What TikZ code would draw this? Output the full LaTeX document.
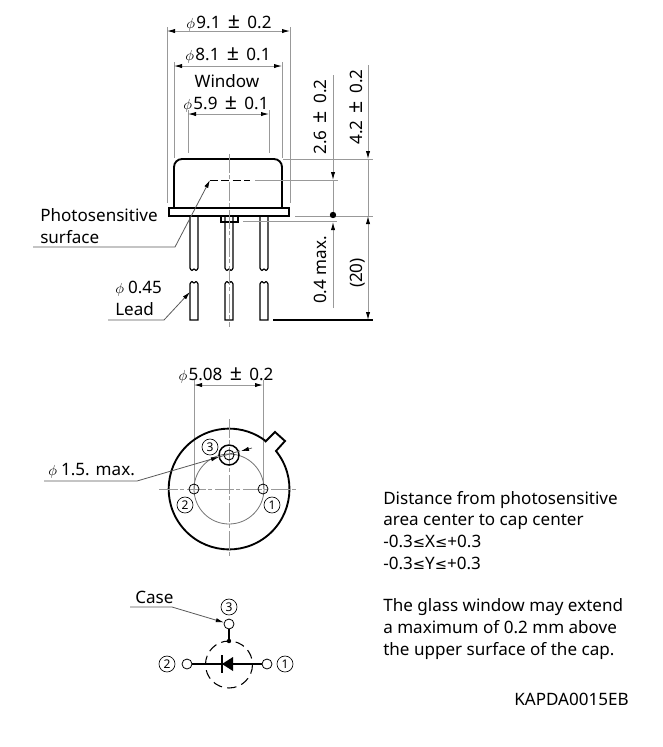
\documentclass[tikz,border=0pt]{standalone}
\usepackage{fontspec}
\setmainfont{Noto Sans}
\newfontfamily\symfont{DejaVu Sans}
\usepackage{amsmath}
\usetikzlibrary{arrows.meta}
\definecolor{dimgray}{gray}{0.6}
\tikzset{
  tipblack/.tip={Latex[black,length=6pt,width=3.2pt]},
  dimline/.style={draw=dimgray,line width=0.7pt},
  dimarrow/.style={dimline,tipblack-tipblack},
  tiparrow/.style={dimline,-tipblack},
  leader/.style={draw=black!65,line width=0.6pt,-tipblack},
  centerline/.style={dimline,dash pattern=on 14pt off 2pt on 3pt off 2pt},
  outline/.style={draw=black,line width=1.4pt},
  pinlabel/.style={draw=black,circle,line width=0.5pt,minimum size=12pt,inner sep=0pt,font=\fontsize{9}{9}\selectfont},
  pinhole/.style={draw=black,circle,line width=0.6pt,minimum size=7.5pt,inner sep=0pt},
  label/.style={font=\fontsize{12.8}{15}\selectfont,inner sep=0pt,text height=11.5pt,text depth=2.5pt}
}
\newcommand{\dia}{{\fontsize{11}{11}\selectfont$\phi$}\hspace{1pt}}
\newcommand{\tol}{\hspace{5.5pt}{\fontsize{16}{16}\selectfont ±}\hspace{5.5pt}}
\newcommand{\lessq}{{\symfont\fontsize{11}{11}\selectfont ≤}}
\begin{document}
\begin{tikzpicture}[x=0.75pt,y=-0.75pt]
   \useasboundingbox (0,0) rectangle (663,747);
   % top view dimensions
   \draw[dimline] (167,27) -- (167,203);
   \draw[dimline] (290,27) -- (290,203);
   \draw[dimline] (174,62) -- (174,158);
   \draw[dimline] (282,62) -- (282,158);
   \draw[dimline] (188,110) -- (188,153);
   \draw[dimline] (269,110) -- (269,153);
   \draw[dimarrow] (167,31) -- (290,31);
   \draw[dimarrow] (174,66) -- (282,66);
   \draw[dimarrow] (188,114) -- (269,114);
   \node[label] at (229,22) {\dia 9.1\tol 0.2};
   \node[label] at (228,54) {\dia 8.1\tol 0.1};
   \node[label] at (227,81) {Window};
   \node[label] at (226,103) {\dia 5.9\tol 0.1};
   % can
   \draw[outline] (174,207) -- (174,167) arc (180:270:8) -- (274,159) arc (270:360:8) -- (282,207);
   \draw[outline] (169,208) rectangle (289,216);
   \draw[line width=1pt] (221,216) rectangle (238,222);
   % leads
   \foreach \leadx in {190,225,260} {
     \draw[line width=0.9pt] (\leadx,217) -- (\leadx,268) .. controls (\leadx+1,271) and (\leadx+3,271) .. (\leadx+4,269) .. controls (\leadx+5,271) and (\leadx+7,271) .. (\leadx+8,268) -- (\leadx+8,217);
     \draw[line width=0.9pt] (\leadx,320) -- (\leadx,284) .. controls (\leadx+1,281) and (\leadx+3,281) .. (\leadx+4,283) .. controls (\leadx+5,281) and (\leadx+7,281) .. (\leadx+8,284) -- (\leadx+8,320) -- cycle;
   }
   \draw[centerline] (229,154) -- (229,327);
   % photosensitive surface
   \draw[line width=0.7pt,dash pattern=on 6pt off 2.5pt] (210,180) -- (250,180);
   \draw[dimline] (255,180) -- (338,180);
   \coordinate (surfknee) at (175,247);
   \coordinate (surftip) at (210,180);
   \draw[leader] (33,247) -- (surfknee) -- (surftip);
   \node[label,anchor=west] at (40,215) {Photosensitive};
   \node[label,anchor=west] at (40,237) {surface};
   \coordinate (leadknee) at (164,320);
   \coordinate (leadtip) at (190,292);
   \draw[leader] (108,320) -- (leadknee) -- (leadtip);
   \node[label,anchor=west] at (115,287) {\dia\,0.45};
   \node[label,anchor=west] at (115,309) {Lead};
   % side dimensions
   \draw[dimline] (283,159) -- (373,159);
   \draw[dimline] (295,216) -- (373,216);
   \draw[dimline] (243,221) -- (337,221);
   \draw[line width=0.8pt] (273,320) -- (373,320);
   \draw[tiparrow] (333,75) -- (333,180);
   \draw[dimline] (333,180) -- (333,216);
   \draw[tiparrow] (333,308) -- (333,222);
   \fill (333,215) circle (3.2);
   \draw[tiparrow] (368,65) -- (368,159);
   \draw[dimline] (368,159) -- (368,216);
   \draw[dimarrow] (368,216) -- (368,320);
   \node[label,rotate=90] at (320,117) {2.6\tol 0.2};
   \node[label,rotate=90] at (356,107) {4.2\tol 0.2};
   \node[label,rotate=90] at (320,270) {0.4 max.};
   \node[label,rotate=90] at (356,273) {(20)};
   % bottom view
   \draw[dimline] (194,380) -- (194,489);
   \draw[dimline] (263,380) -- (263,489);
   \draw[dimarrow] (194,385) -- (263,385);
   \node[label] at (226,374) {\dia 5.08\tol 0.2};
   \draw[outline] (265,442) -- (275,432) -- (285,441) -- (276,451)
     arc (-39:307.5:60.4);
   \draw[draw=black!55,line width=0.6pt] (229,489) circle (35);
   \draw[centerline] (159,489) -- (298,489);
   \draw[centerline] (229,419) -- (229,556);
   \node[pinhole] (pintwo) at (194,489) {};
   \node[pinhole] (pinone) at (263,489) {};
   \node[pinhole,minimum size=15pt,line width=1.1pt] (pincase) at (229,455) {};
   \draw[line width=0.7pt] (229,455) circle (5);
   \node[pinlabel] at (210,447) {3};
   \node[pinlabel] at (185,505) {2};
   \node[pinlabel] at (272,505) {1};
   \coordinate (caseknee) at (137,481);
   \coordinate (casetip) at (219,457);
   \draw[leader] (44,481) -- (caseknee) -- (casetip);
   \draw[leader,-] (219,457) -- (240,451);
   \draw[leader] (252,448) -- (241,451);
   \node[label,anchor=west] at (48,469) {\dia\,1.5. max.};
   % circuit symbol
   \node[label,anchor=west] at (135,597) {Case};
   \node[pinhole] (symcase) at (229,624) {};
   \node[pinhole] (symtwo) at (187,664) {};
   \node[pinhole] (symone) at (267,664) {};
   \coordinate (symdot) at (229,641);
   \coordinate (symknee) at (172,607);
   \draw[leader] (130,607) -- (symknee) -- (symcase);
   \draw[line width=1pt] (symcase) -- (symdot);
   \fill (symdot) circle (2.2);
   \draw[line width=0.8pt,dash pattern=on 7pt off 4pt] (229,664.5) circle (23.5);
   \draw[line width=0.8pt] (symtwo) -- (symone);
   \fill (222,664) -- (233,657) -- (233,671) -- cycle;
   \draw[line width=1pt] (222,655) -- (222,673);
   \node[pinlabel] at (229,607) {3};
   \node[pinlabel] at (167,664) {2};
   \node[pinlabel] at (285,664) {1};
   % notes
   \node[label,anchor=west] at (383,498) {Distance from photosensitive};
   \node[label,anchor=west] at (383,519) {area center to cap center};
   \node[label,anchor=west] at (383,541) {-0.3\lessq X\lessq +0.3};
   \node[label,anchor=west] at (383,563) {-0.3\lessq Y\lessq +0.3};
   \node[label,anchor=west] at (383,605) {The glass window may extend};
   \node[label,anchor=west] at (383,627) {a maximum of 0.2 mm above};
   \node[label,anchor=west] at (383,649) {the upper surface of the cap.};
   \node[label,anchor=east] at (629,699) {KAPDA0015EB};
\end{tikzpicture}
\end{document}
